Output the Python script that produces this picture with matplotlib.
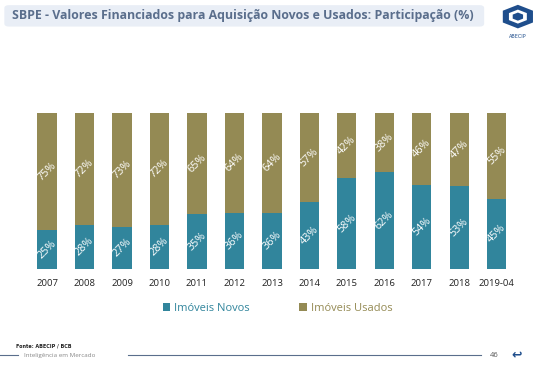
import matplotlib
import numpy as np

matplotlib.use("Agg")
import matplotlib.pyplot as plt
from matplotlib.patches import FancyBboxPatch, RegularPolygon

# ------------------------------------
# Data
# ------------------------------------
years = ["2007", "2008", "2009", "2010", "2011", "2012", "2013",
         "2014", "2015", "2016", "2017", "2018", "2019-04"]
novos = [25, 28, 27, 28, 35, 36, 36, 43, 58, 62, 54, 53, 45]
usados = [75, 72, 73, 72, 65, 64, 64, 57, 42, 38, 46, 47, 55]

TEAL = "#31859C"
OLIVE = "#948A54"
TITLE_BLUE = "#5A6E8C"

plt.rcParams["font.family"] = ["Open Sans", "DejaVu Sans"]

fig = plt.figure(figsize=(5.44, 3.69), dpi=100)

# title bar
fig.patches.append(FancyBboxPatch((0.008, 0.928), 0.882, 0.058,
                                  boxstyle="round,pad=0,rounding_size=0.008",
                                  transform=fig.transFigure, fc="#E9EEF6",
                                  ec="none"))
fig.text(0.022, 0.957,
         "SBPE - Valores Financiados para Aquisição Novos e Usados: Participação (%)",
         fontsize=8.9, color=TITLE_BLUE, fontweight="bold", va="center",
         ha="left")

# logo (rough)
for r, c in [(0.032, "#1F4E8C"), (0.019, "white"), (0.011, "#1F4E8C")]:
    fig.patches.append(RegularPolygon((0.952, 0.955), 6, radius=r,
                                      transform=fig.transFigure, fc=c,
                                      ec="none"))
fig.text(0.952, 0.902, "ABECIP", fontsize=3.5, color="#1F4E8C",
         ha="center", va="center", family="DejaVu Sans")

# ------------------------------------
# Chart
# ------------------------------------
ax = fig.add_axes([0.0519, 0.271, 0.896, 0.423])
x = np.arange(len(years))
w = 0.51
ax.bar(x, novos, width=w, color=TEAL, label="Imóveis Novos")
ax.bar(x, usados, width=w, bottom=novos, color=OLIVE, label="Imóveis Usados")

for i in range(len(years)):
    ax.text(x[i], novos[i] / 2, f"{novos[i]}%", rotation=45, color="white",
            ha="center", va="center", fontsize=7.8)
    ax.text(x[i], novos[i] + usados[i] / 2, f"{usados[i]}%", rotation=45,
            color="white", ha="center", va="center", fontsize=7.8)

ax.set_xlim(-0.5, len(years) - 0.5)
ax.set_ylim(0, 100)
ax.set_xticks(x)
ax.set_xticklabels(years, fontsize=6.8, color="#222222")
ax.tick_params(axis="x", length=0, pad=7)
ax.set_yticks([])
for s in ax.spines.values():
    s.set_visible(False)

leg = fig.legend(loc="center", bbox_to_anchor=(0.51, 0.165), ncol=2,
                 frameon=False, fontsize=8, handlelength=0.7,
                 handleheight=0.7, handletextpad=0.3, columnspacing=4.5)
for txt, c in zip(leg.get_texts(), [TEAL, OLIVE]):
    txt.set_color(c)

# ------------------------------------
# Footer
# ------------------------------------
fig.text(0.03, 0.063, "Fonte: ABECIP / BCB", fontsize=3.5, color="#222222",
         fontweight="bold", va="center", family="DejaVu Sans")
fig.add_artist(plt.Line2D([0.0, 0.033], [0.037, 0.037], color="#5A6E8C",
                          lw=0.8, transform=fig.transFigure))
fig.text(0.045, 0.037, "Inteligência em Mercado", fontsize=4.5,
         color="#888888", va="center")
fig.add_artist(plt.Line2D([0.235, 0.885], [0.037, 0.037], color="#5A6E8C",
                          lw=0.8, transform=fig.transFigure))
fig.text(0.9, 0.037, "46", fontsize=5.5, color="#555555", va="center")
fig.text(0.95, 0.037, "↩", fontsize=9, color="#1F4E8C", va="center",
         ha="center", family="DejaVu Sans", fontweight="bold")

fig.savefig("out.png", dpi=100)
